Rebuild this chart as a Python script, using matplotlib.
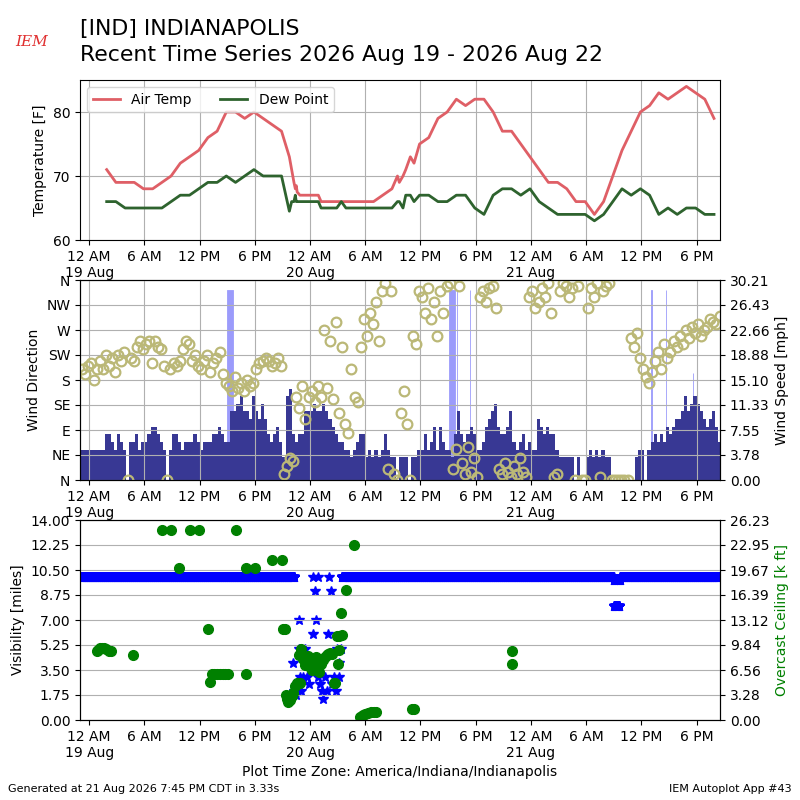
import numpy as np
import matplotlib
matplotlib.use("Agg")
import matplotlib.pyplot as plt

# hours since 2026-08-19 00:00 local time
XLIM = (-1.0, 68.55)
tick_hours = [0, 6, 12, 18, 24, 30, 36, 42, 48, 54, 60, 66]
tick_labels = ["12 AM\n19 Aug", "6 AM", "12 PM", "6 PM",
               "12 AM\n20 Aug", "6 AM", "12 PM", "6 PM",
               "12 AM\n21 Aug", "6 AM", "12 PM", "6 PM"]

# --- hourly / special observations (temperature, dew point) ---
obs_hours = [1.9, 2.9, 3.9, 4.9, 5.9, 6.9, 7.9, 8.9, 9.9, 10.9, 11.9, 12.9,
             13.9, 14.9, 15.9, 16.9, 17.9, 18.9, 19.9, 20.9, 21.75, 22.0,
             22.25, 22.4, 22.5, 22.6, 22.9, 23.9, 24.9, 25.2, 25.9, 26.9,
             27.4, 27.9, 28.9, 29.9, 30.9, 31.9, 32.9, 33.5, 33.7, 34.1,
             34.4, 34.9, 35.3, 35.9, 36.9, 37.9, 38.9, 39.9, 40.9, 41.9,
             42.9, 43.9, 44.9, 45.9, 46.9, 47.9, 48.9, 49.9, 50.9, 51.9,
             52.9, 53.9, 54.9, 55.9, 56.9, 57.9, 58.9, 59.9, 60.9, 61.9,
             62.9, 63.9, 64.9, 65.9, 66.9, 67.9]
temp_f = [71, 69, 69, 69, 68, 68, 69, 70, 72, 73, 74, 76,
          77, 80, 80, 79, 80, 79, 78, 77, 73, 71,
          69, 68, 68.5, 67.5, 67, 67, 67, 66, 66, 66,
          66, 66, 66, 66, 66, 67, 68, 70, 69, 70,
          71, 73, 72, 75, 76, 79, 80, 82, 81, 82,
          82, 80, 77, 77, 75, 73, 71, 69, 69, 68,
          66, 66, 64, 66, 70, 74, 77, 80, 81, 83,
          82, 83, 84, 83, 82, 79]
dewp_f = [66, 66, 65, 65, 65, 65, 65, 66, 67, 67, 68, 69,
          69, 70, 69, 70, 71, 70, 70, 70, 64.5, 66,
          66, 67, 66, 66, 66, 66, 66, 65, 65, 65,
          66, 65, 65, 65, 65, 65, 65, 66, 66, 65,
          67, 67, 66, 67, 67, 66, 66, 67, 67, 65,
          64, 67, 68, 68, 67, 68, 66, 65, 64, 64,
          64, 64, 63, 64, 66, 68, 67, 68, 67, 64,
          65, 64, 65, 65, 64, 64]

# --- wind, 20 minute bins starting at XLIM[0] (knots, degrees) ---
wind_kt = [
    4, 4, 4,   4, 4, 4,   4, 4, 6,   6, 5, 4,   6, 5, 4,   0, 5, 5,    # -1..4
    6, 4, 5,   5, 6, 7,   7, 6, 5,   4, 0, 4,   6, 6, 5,   4, 5, 5,    # 5..10
    5, 6, 5,   4, 5, 5,   5, 6, 6,   7, 6, 5,   5, 9, 9,   10, 11, 9,  # 11..16
    9, 8, 11,  9, 8, 10,  8, 6, 5,   6, 7, 5,   3, 11, 12, 6, 5, 6,    # 17..22
    6, 9, 9,   9, 10, 9,  9, 10, 9,  8, 7, 6,   5, 5, 4,   4, 3, 4,    # 23..28
    5, 6, 6,   3, 4, 3,   4, 3, 4,   6, 4, 3,   3, 0, 3,   3, 3, 0,    # 29..34
    3, 3, 4,   4, 6, 4,   5, 7, 4,   7, 5, 4,   4, 3, 6,   9, 6, 5,    # 35..40
    6, 7, 6,   4, 4, 5,   7, 8, 9,   10, 7, 6,  6, 7, 9,   5, 4, 5,    # 41..46
    6, 4, 5,   4, 4, 8,   7, 6, 7,   6, 6, 4,   3, 3, 3,   3, 3, 0,    # 47..52
    3, 0, 0,   3, 4, 3,   4, 3, 4,   3, 3, 0,   0, 0, 0,   0, 0, 0,    # 53..58
    0, 3, 4,   4, 0, 4,   5, 6, 5,   6, 5, 7,   6, 7, 8,   8, 9, 11,   # 59..64
    9, 10, 11, 10, 9, 8,  7, 8, 9,   7, 5,                               # 65..68
]
wind_dir = [
    200, 190, 205, 210, 180, 200, 215, 200, 225, 205, 220, 195, 225, 215, 230, 0, 220, 215,
    240, 250, 235, 245, 250, 210, 250, 240, 235, 205, 0, 200, 210, 205, 215, 235, 250, 245,
    215, 225, 205, 200, 215, 225, 195, 210, 220, 230, 190, 175, 170, 160, 185, 165, 175, 160,
    180, 170, 175, 200, 210, 215, 220, 215, 205, 210, 220, 205, 10, 25, 40, 35, 150, 130,
    170, 110, 150, 160, 140, 170, 150, 270, 165, 250, 145, 285, 120, 240, 100, 85, 200, 150,
    140, 240, 290, 260, 300, 280, 320, 250, 340, 355, 20, 340, 10, 0, 120, 160, 100, 0,
    260, 245, 340, 330, 300, 345, 290, 320, 260, 340, 300, 350, 355, 20, 55, 350, 30, 10,
    60, 15, 40, 5, 330, 340, 320, 345, 350, 310, 20, 10, 30, 15, 5, 25, 10, 40,
    15, 5, 330, 340, 310, 320, 345, 330, 355, 300, 5, 10, 340, 355, 350, 330, 345, 0,
    350, 0, 0, 310, 345, 330, 355, 5, 340, 350, 355, 0, 0, 0, 0, 0, 0, 255,
    240, 265, 220, 200, 185, 175, 195, 215, 230, 200, 245, 220, 230, 250, 240, 260, 245, 270,
    255, 275, 265, 280, 260, 270, 275, 290, 285, 280, 295,
]

# gusts: start hour, duration [minutes], knots
gust_start = [15.0, 39.15, 40.0, 41.35, 61.1, 62.7, 65.65]
gust_minutes = [36, 35, 1, 1, 1, 1, 1]
gust_kt = [25, 25, 25, 25, 25, 25, 14]

# --- one minute visibility: runs of constant value, plus scattered reports ---
vis_runs = [(-1.0, 22.3, 10.0), (27.45, 57.0, 10.0), (57.0, 57.7, 9.8),
            (57.05, 57.6, 8.0), (57.7, 68.55, 10.0)]
vis_hours = [22.1, 22.2, 22.3, 22.5, 22.6, 22.85, 22.85, 22.9, 23.0, 23.2,
             23.4, 23.5, 23.7, 23.9, 24.0, 24.3, 24.3, 24.5, 24.7, 24.85,
             24.9, 25.1, 25.3, 25.4, 25.6, 25.8, 25.9, 26.1, 26.3, 26.4,
             26.6, 26.8, 26.9, 27.1, 27.2, 27.4]
vis_miles = [4.0, 1.75, 2.0, 1.75, 2.5, 7.0, 5.0, 3.0, 2.0, 3.0,
             5.0, 4.0, 3.0, 2.5, 3.5, 10.0, 6.0, 9.0, 7.0, 10.0,
             3.0, 2.5, 2.0, 1.5, 3.0, 2.0, 6.0, 10.0, 9.0, 2.5,
             3.0, 2.0, 5.0, 4.0, 3.0, 5.0]

# --- overcast ceiling [k ft] ---
ceil_hours = [0.8, 1.0, 1.2, 1.4, 1.6, 1.8, 2.1, 2.4, 4.8, 7.9, 8.9, 9.8,
              10.9, 11.9, 12.9, 13.1, 13.3, 13.6, 13.9, 14.2, 14.5, 14.8,
              15.1, 16.0, 17.0, 17.0, 18.0, 19.9, 21.0, 21.1, 21.3, 21.4,
              21.5, 21.6, 21.8, 22.0, 22.2, 22.4, 22.6, 22.9, 22.8, 23.0,
              23.2, 23.4, 23.6, 23.8, 24.0, 24.2, 24.4, 24.6, 24.8, 25.0,
              25.2, 25.4, 25.6, 25.8, 26.0, 26.2, 26.4, 26.6, 26.7, 26.9,
              27.0, 27.1, 27.2, 27.4, 27.5, 27.9, 28.8, 29.4, 29.6, 29.8,
              30.0, 30.3, 30.6, 30.9, 31.2, 35.1, 35.3, 46.0, 46.0]
ceil_kft = [9.0, 9.2, 9.5, 9.5, 9.5, 9.3, 9.0, 9.0, 8.5, 24.982, 24.982, 20.0,
            24.982, 24.982, 12.0, 5.0, 6.0, 6.0, 6.0, 6.0, 6.0, 6.0,
            6.0, 24.982, 6.0, 20.0, 20.0, 21.0, 21.0, 12.0, 12.0, 3.3,
            2.8, 2.4, 2.6, 3.1, 3.6, 4.4, 4.9, 4.8, 8.5, 9.3,
            8.0, 7.2, 7.6, 8.4, 7.0, 6.6, 7.5, 8.2, 7.0, 6.3,
            7.4, 7.9, 8.2, 8.5, 8.6, 8.8, 8.6, 4.8, 4.9, 11.0,
            7.4, 9.2, 11.0, 14.0, 11.2, 17.0, 23.0, 0.4, 0.5, 0.6,
            0.8, 0.9, 1.0, 1.1, 1.1, 1.4, 1.4, 9.0, 7.4]

KT2MPH = 1.15078
GRID = dict(color="#b0b0b0", linewidth=0.8)


def setup_time_axis(ax):
    ax.set_xlim(*XLIM)
    ax.set_xticks(tick_hours)
    ax.set_xticklabels(tick_labels)


def expand_runs(runs, step=1.0 / 60.0):
    t, v = [], []
    for start, end, val in runs:
        pts = np.arange(start, end, step)
        t.extend(pts)
        v.extend([val] * len(pts))
    return t, v


fig = plt.figure(figsize=(8, 8), dpi=100)

# ---------------- temperature ----------------
ax1 = fig.add_axes([0.1, 0.7, 0.8, 0.2])
ax1.plot(obs_hours, temp_f, color="#df5f66", lw=2, label="Air Temp")
ax1.plot(obs_hours, dewp_f, color="#2e632e", lw=2, label="Dew Point")
setup_time_axis(ax1)
ax1.set_ylim(60, 85)
ax1.set_yticks([60, 70, 80])
ax1.set_ylabel("Temperature [F]")
ax1.grid(True, **GRID)
ax1.legend(loc="upper left", ncol=2, fontsize=10)

# ---------------- wind ----------------
wind_t = XLIM[0] + np.arange(len(wind_kt)) / 3.0
wind_mph = np.array(wind_kt) * KT2MPH
gust_mph = np.array(gust_kt) * KT2MPH
spd_max = gust_mph.max() * 1.05

ax2 = fig.add_axes([0.1, 0.4, 0.8, 0.25])
ax2b = ax2.twinx()
ax2b.bar(gust_start, gust_mph, width=np.array(gust_minutes) / 60.0,
         align="edge", color="#9b9bfb", edgecolor="#9b9bfb", linewidth=0.6)
ax2b.bar(wind_t, wind_mph, width=1.0 / 3.0, align="edge",
         color="#383894", linewidth=0)
ax2b.set_ylim(0, spd_max)
ax2b.set_yticks(np.linspace(0, spd_max, 9))
ax2b.set_yticklabels(["%.2f" % v for v in np.linspace(0, spd_max, 9)])
ax2b.set_ylabel("Wind Speed [mph]")

ax2.set_zorder(ax2b.get_zorder() + 1)
ax2.patch.set_visible(False)
ax2.plot(wind_t + 1.0 / 6.0, wind_dir, linestyle="none", marker="o", ms=7,
         mfc="none", mec="#bbb877", mew=1.6)
ax2.set_ylim(0, 360)
ax2.set_yticks(range(0, 361, 45))
ax2.set_yticklabels(["N", "NE", "E", "SE", "S", "SW", "W", "NW", "N"])
ax2.set_ylabel("Wind Direction")
setup_time_axis(ax2)
ax2.grid(True, **GRID)

# ---------------- visibility / ceiling ----------------
ax3 = fig.add_axes([0.1, 0.1, 0.8, 0.25])
run_t, run_v = expand_runs(vis_runs)
ax3.plot(run_t, run_v, linestyle="none", marker="*", ms=7, color="blue")
ax3.plot(vis_hours, vis_miles, linestyle="none", marker="*", ms=7, color="blue")
ax3.set_ylim(0, 14)
ax3.set_yticks(np.linspace(0, 14, 9))
ax3.set_yticklabels(["%.2f" % v for v in np.linspace(0, 14, 9)])
ax3.set_ylabel("Visibility [miles]")
setup_time_axis(ax3)

ax3b = ax3.twinx()
ceil_max = max(ceil_kft) * 1.05
ax3b.plot(ceil_hours, ceil_kft, linestyle="none", marker="o", ms=7,
          color="green")
ax3b.set_ylim(0, ceil_max)
ax3b.set_yticks(np.linspace(0, ceil_max, 9))
ax3b.set_yticklabels(["%.2f" % v for v in np.linspace(0, ceil_max, 9)])
ax3b.set_ylabel("Overcast Ceiling [k ft]", color="green")
ax3b.set_xlim(*XLIM)
ax3b.grid(True, **GRID)
ax3.set_xlabel("Plot Time Zone: America/Indiana/Indianapolis")

# ---------------- titles / footer ----------------
fig.text(0.1, 0.964, "[IND] INDIANAPOLIS", fontsize=15.8, va="center")
fig.text(0.1, 0.931, "Recent Time Series 2026 Aug 19 - 2026 Aug 22",
         fontsize=15.8, va="center")
fig.text(0.04, 0.947, "IEM", fontsize=11, color="#e03030",
         style="italic", family="serif", ha="center", va="center")
fig.text(0.01, 0.014, "Generated at 21 Aug 2026 7:45 PM CDT in 3.33s",
         fontsize=8, va="center")
fig.text(0.99, 0.014, "IEM Autoplot App #43", fontsize=8, va="center",
         ha="right")

fig.savefig("out.png", dpi=100)
